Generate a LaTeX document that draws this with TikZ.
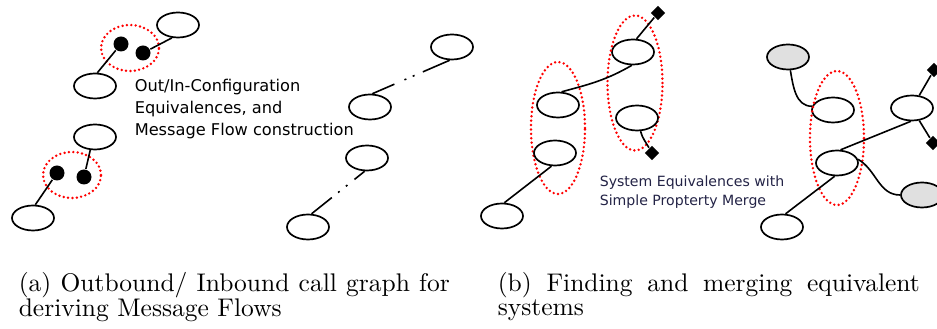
\documentclass[tikz,border=0pt]{standalone}
\usepackage{fontspec}
\newfontfamily\graphfont{DejaVu Sans}
\newfontfamily\capfont{lmroman10-regular}[Extension=.otf]
\usepackage{tikz, xcolor}
\usetikzlibrary{shapes,arrows}
\definecolor{notecolor}{RGB}{35,35,70}
\hyphenpenalty=10000
\exhyphenpenalty=10000
\tolerance=9999

\begin{document}
\begin{tikzpicture}[x=1pt, y=1pt, line width=1.6pt]
\tikzstyle{vertexe}=[ellipse, draw=black, line width=1.7pt, minimum width=42pt, minimum height=25pt, inner sep=0pt]
\tikzstyle{vertexg}=[vertexe, fill=black!12]
\tikzstyle{vertexd}=[circle, fill=black, minimum size=15pt, inner sep=0pt]
\tikzstyle{vertexp}=[diamond, fill=black, minimum size=15pt, inner sep=0pt]
\tikzstyle{equiv}=[ellipse, draw=red, line width=2.7pt, line cap=round, dash pattern=on 0pt off 4.4pt, inner sep=0pt]
\tikzstyle{drawstyle}=[line width=1.6pt]
\tikzstyle{notestyle}=[anchor=west, align=left, inner sep=0pt]
\tikzstyle{capstyle}=[anchor=north west, align=justify, inner sep=0pt, font=\capfont\fontsize{25.5pt}{24pt}\selectfont]

\useasboundingbox (0,0) rectangle (937,329);

\node[vertexe] (A1) at (178,304) {};
\node[equiv, minimum width=58pt, minimum height=46pt] (AC1) at (130,281) {};
\node[vertexd] (AD1) at (121,285) {};
\node[vertexd] (AD2) at (143,276) {};
\node[vertexe] (A2) at (95,243) {};
\draw[drawstyle] (AD2) -- (A1.245);
\draw[drawstyle] (AD1) -- (A2.80);
\node[vertexe] (A3) at (95,192) {};
\node[equiv, minimum width=58pt, minimum height=46pt] (AC2) at (72,154) {};
\node[vertexd] (AD3) at (57,156) {};
\node[vertexd] (AD4) at (84,152) {};
\node[vertexe] (A4) at (33,111) {};
\draw[drawstyle] (AD4) -- (A3.250);
\draw[drawstyle] (AD3) -- (A4.80);
\node[notestyle, font=\graphfont\fontsize{16.2pt}{22pt}\selectfont] (AT) at (134,220) {Out/In-Configuration\\Equivalences, and\\Message Flow construction};
\node[vertexe] (A5) at (452,282) {};
\node[vertexe] (A6) at (370,222) {};
\node[vertexe] (A7) at (367,171) {};
\node[vertexe] (A8) at (308,102) {};
\draw[drawstyle, dash pattern=on 24pt off 11pt on 2pt off 7pt on 2pt off 9pt on 60pt] (A6.80) -- (A5.260);
\draw[drawstyle, dash pattern=on 26pt off 8pt on 2pt off 8pt on 2pt off 9pt on 40pt] (A8.75) -- (A7.260);

\node[vertexp] (BP1) at (658,316) {};
\node[vertexe] (B1) at (633,277) {};
\node[equiv, minimum width=55pt, minimum height=135pt] (BC2) at (635,246) {};
\node[vertexe] (B2) at (637,211) {};
\node[vertexp] (BP2) at (652,176) {};
\node[vertexe] (B3) at (558,224) {};
\node[equiv, minimum width=54pt, minimum height=132pt] (BC1) at (558,201) {};
\node[vertexe] (B4) at (555,176) {};
\node[vertexe] (B5) at (502,113) {};
\draw[drawstyle] (BP1) -- (B1.75);
\draw[drawstyle] (B1.265) to[out=210, in=15] (B3.75);
\draw[drawstyle] (B2.285) to[out=-75, in=120] (BP2);
\draw[drawstyle] (B4.255) -- (B5.80);
\node[vertexg] (BG1) at (788,272) {};
\node[vertexe] (B6) at (833,219) {};
\node[equiv, minimum width=54pt, minimum height=134pt] (BC3) at (837,191) {};
\node[vertexe] (B7) at (837,166) {};
\node[vertexe] (B8) at (912,221) {};
\node[vertexp] (BP3) at (934,259) {};
\node[vertexp] (BP4) at (933,186) {};
\node[vertexg] (BG2) at (922,134) {};
\node[vertexe] (B9) at (782,102) {};
\draw[drawstyle] (BG1.280) to[out=-80, in=180] (B6.170);
\draw[drawstyle] (B7.75) -- (B8.265);
\draw[drawstyle] (B8.60) -- (BP3);
\draw[drawstyle] (B8.-60) -- (BP4);
\draw[drawstyle] (B7.10) to[out=-30, in=180] (BG2.west);
\draw[drawstyle] (B7.260) -- (B9.75);
\node[notestyle, text=notecolor, font=\graphfont\fontsize{14.1pt}{19.5pt}\selectfont] (BT) at (599,137) {System Equivalences with\\Simple Propterty Merge};

\node[capstyle, text width=431pt] (CA) at (18,57) {(a) Outbound/ Inbound call graph for deriving Message Flows};
\node[capstyle, text width=422pt] (CB) at (497,57) {(b) Finding and merging equivalent systems};
\end{tikzpicture}
\end{document}
